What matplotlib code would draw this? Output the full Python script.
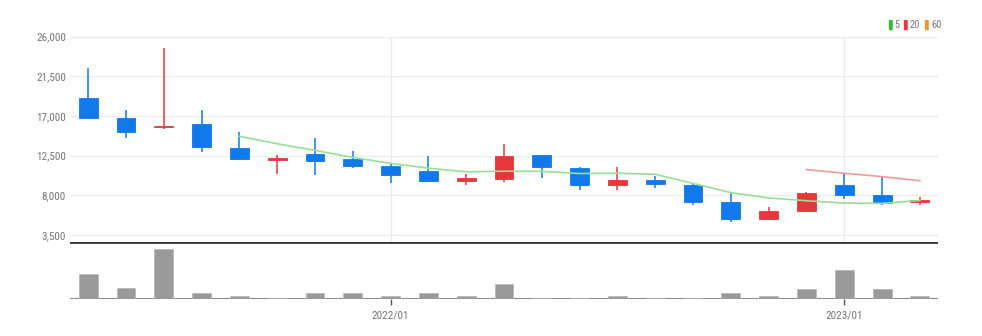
import matplotlib
matplotlib.use('Agg')
import matplotlib.pyplot as plt
from matplotlib import font_manager
import numpy as np

# monthly candles, 2021/05 .. 2023/03
months = ['2021/05', '2021/06', '2021/07', '2021/08', '2021/09', '2021/10', '2021/11', '2021/12',
          '2022/01', '2022/02', '2022/03', '2022/04', '2022/05', '2022/06', '2022/07', '2022/08',
          '2022/09', '2022/10', '2022/11', '2022/12', '2023/01', '2023/02', '2023/03']
opens = [19080, 16780, 15720, 16130, 13380, 12060, 12700, 12090, 11370, 10770, 9650, 9860,
         12600, 11070, 9140, 9710, 9180, 7290, 5360, 6190, 9220, 8040, 7200]
highs = [22400, 17700, 24700, 17700, 15150, 12620, 14510, 13000, 11710, 12430, 10430, 13830,
         12620, 11220, 11260, 10240, 9440, 8420, 6680, 8390, 10500, 10050, 7820]
lows = [16650, 14470, 15500, 12880, 12000, 10430, 10320, 11140, 9370, 9480, 9210, 9560,
        10010, 8570, 8610, 8880, 6870, 4980, 5170, 6110, 7630, 6870, 6870]
closes = [16750, 15230, 15880, 13490, 12090, 12270, 11900, 11370, 10310, 9590, 9950, 12510,
          11220, 9140, 9710, 9330, 7290, 5360, 6190, 8310, 8080, 7100, 7440]
volumes = [250, 110, 503, 60, 27, 13, 60, 60, 33, 60, 27, 153, 13, 13, 27, 13, 13, 60, 27,
           103, 287, 103, 27]

# moving averages (start at 5th / 20th candle)
ma5 = [14700, 13850, 13100, 12300, 11620, 11080, 10660, 10740, 10720, 10470, 10500, 10380,
       9350, 8300, 7700, 7380, 7120, 7080, 7410]
ma20 = [10920, 10500, 10120, 9650]

yticks = [3500, 8000, 12500, 17000, 21500, 26000]
xtick_labels = ['2022/01', '2023/01']

UP = '#e8363c'
DOWN = '#1079ec'
TXT = '#777777'

# narrow font if there is one
names = {f.name for f in font_manager.fontManager.ttflist}
narrow = [n for n in ['Liberation Sans Narrow', 'DejaVu Sans Condensed', 'Roboto Condensed']
          if n in names]
plt.rcParams['font.family'] = narrow[:1] + ['DejaVu Sans']
if not narrow:
    plt.rcParams['font.stretch'] = 'condensed'

fig = plt.figure(figsize=(9.82, 3.36), dpi=100)
ax = fig.add_axes([0.0713, 0.2798, 0.8839, 0.611])
axv = fig.add_axes([0.0713, 0.110, 0.8839, 0.1698], sharex=ax)

x = np.arange(len(months))
w = 0.5
for i in x:
    col = UP if closes[i] >= opens[i] else DOWN
    ax.vlines(i, lows[i], highs[i], color=col, lw=1.1, zorder=3)
    lo = min(opens[i], closes[i])
    h = max(abs(closes[i] - opens[i]), 60)
    ax.bar(i, h, w, bottom=lo, color=col, edgecolor=col, lw=0.6, zorder=4)

ax.plot(x[4:], ma5, color='#98de98', lw=1.2, zorder=5)
ax.plot(x[19:], ma20, color='#f29a9a', lw=1.2, zorder=5)

ax.set_ylim(2700, 26000)
ax.set_xlim(-0.48, len(months) - 0.52)
ax.set_yticks(yticks)
ax.set_yticklabels([f'{v:,}' for v in yticks])
xt = [months.index(m) for m in xtick_labels]
ax.set_xticks(xt)
ax.grid(True, color='#ececec', lw=1)
ax.set_axisbelow(True)
ax.tick_params(axis='y', length=0, pad=3, labelsize=8, labelcolor=TXT)
ax.tick_params(axis='x', length=0, labelbottom=False)
for s in ax.spines.values():
    s.set_visible(False)

# volume panel
axv.bar(x, volumes, w, color='#9a9a9a', edgecolor='#b5b5b5', lw=0.5, zorder=2)
axv.axhline(0, color='#7a7a7a', lw=2, zorder=1)
axv.axhline(max(volumes) * 57 / 50, color='#333333', lw=2, zorder=3)
axv.set_ylim(0, max(volumes) * 57 / 50)
axv.set_yticks([])
axv.set_xticks(xt)
axv.set_xticklabels(xtick_labels)
axv.tick_params(axis='x', length=4, width=1, color='#555555', pad=4, labelsize=8, labelcolor=TXT)
for s in axv.spines.values():
    s.set_visible(False)

# legend in the top right corner
leg = [('5', '#2cbf2c'), ('20', '#ee3340'), ('60', '#f0962a')]
lx = 0.904
for lab, c in leg:
    fig.text(lx, 0.927, '\u258c', color=c, fontsize=7, va='center', ha='left',
             family=['DejaVu Sans'])
    fig.text(lx + 0.0065, 0.927, lab, color=TXT, fontsize=7.5, va='center', ha='left')
    lx += 0.0065 + 0.0055 * len(lab) + 0.004

fig.savefig('out.png', dpi=100)
